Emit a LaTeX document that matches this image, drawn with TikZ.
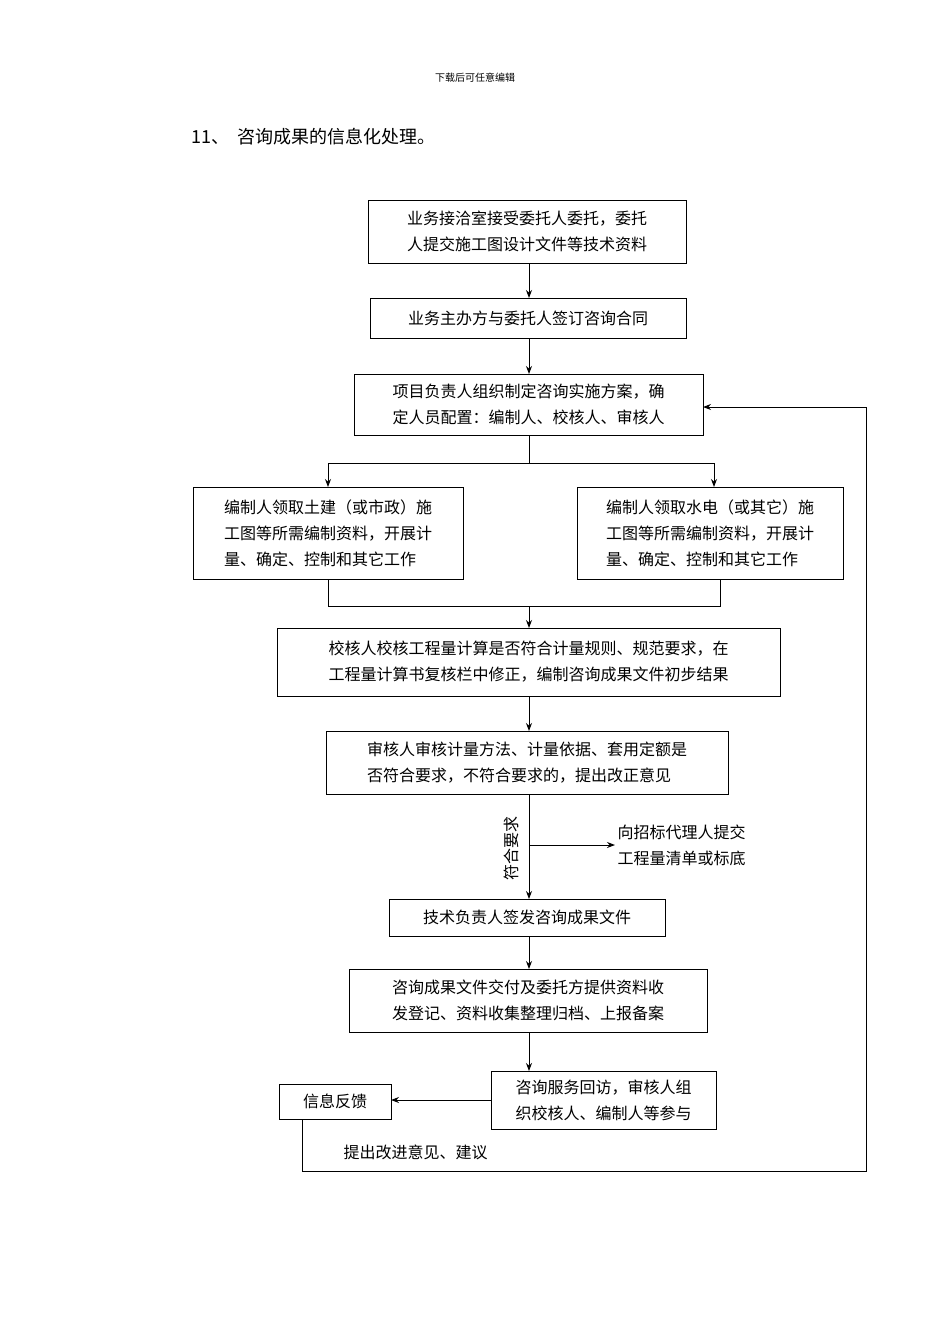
\documentclass[tikz,border=0pt]{standalone}
\usepackage{fontspec}
\newfontfamily\cjk{Noto Sans CJK SC}
\usetikzlibrary{arrows.meta}
\begin{document}
\begin{tikzpicture}[x=1pt,y=-1pt,
  bx/.style={draw,line width=1pt,align=left,font=\cjk\fontsize{16}{26}\selectfont,inner sep=0pt},
  tx/.style={align=left,font=\cjk\fontsize{16}{26}\selectfont},
  ar/.style={-{Stealth[length=8pt,width=6pt]},line width=1pt},
  ln/.style={line width=1pt}]
\useasboundingbox (0,0) rectangle (950,1344);
\node[font=\cjk\fontsize{10}{12}\selectfont] (hd) at (475,78) {下载后可任意编辑};
\node[anchor=west,font=\cjk\fontsize{18}{22}\selectfont] (tt) at (188,137) {11、\ \ 咨询成果的信息化处理。};
\draw[ln] (368,200) rectangle (686,263); \node[tx] (b1) at (527,231.5) {业务接洽室接受委托人委托，委托\\人提交施工图设计文件等技术资料};
\draw[ln] (370,298) rectangle (686,338); \node[tx] (b2) at (528,318) {业务主办方与委托人签订咨询合同};
\draw[ln] (354,374) rectangle (703,435); \node[tx] (b3) at (528.5,404.5) {项目负责人组织制定咨询实施方案，确\\定人员配置：编制人、校核人、审核人};
\draw[ln] (193,487) rectangle (463,579); \node[tx] (b4) at (328,533) {编制人领取土建（或市政）施\\工图等所需编制资料，开展计\\量、确定、控制和其它工作};
\draw[ln] (577,487) rectangle (843,579); \node[tx] (b5) at (710,533) {编制人领取水电（或其它）施\\工图等所需编制资料，开展计\\量、确定、控制和其它工作};
\draw[ln] (277,628) rectangle (780,696); \node[tx] (b6) at (528.5,662) {校核人校核工程量计算是否符合计量规则、规范要求，在\\工程量计算书复核栏中修正，编制咨询成果文件初步结果};
\draw[ln] (326,731) rectangle (728,794); \node[tx] (b7) at (527,762.5) {审核人审核计量方法、计量依据、套用定额是\\否符合要求，不符合要求的，提出改正意见};
\draw[ln] (389,899) rectangle (665,936); \node[tx] (b8) at (527,917.5) {技术负责人签发咨询成果文件};
\draw[ln] (349,969) rectangle (707,1032); \node[tx] (b9) at (528,1000.5) {咨询成果文件交付及委托方提供资料收\\发登记、资料收集整理归档、上报备案};
\draw[ln] (491,1071) rectangle (716,1129); \node[tx] (b10) at (603.5,1100) {咨询服务回访，审核人组\\织校核人、编制人等参与};
\draw[ln] (279,1084) rectangle (391,1119); \node[tx] (b11) at (335,1101.5) {信息反馈};
\coordinate (c1) at (529,263); \coordinate (c2) at (529,298);
\draw[ar] (c1) -- (c2);
\draw[ar] (529,338) -- (529,374);
\draw[ln] (529,435) -- (529,463);
\draw[ar] (529,463) -- (328,463) -- (328,487);
\draw[ar] (529,463) -- (714,463) -- (714,487);
\draw[ln] (328,579) -- (328,606) -- (720,606) -- (720,579);
\draw[ar] (529,606) -- (529,628);
\draw[ar] (529,696) -- (529,731);
\draw[ar] (529,794) -- (529,899);
\node[rotate=90,font=\cjk\fontsize{16}{20}\selectfont] (fh) at (511,848) {符合要求};
\draw[ar] (529,845) -- (615,845);
\node[tx,anchor=west] (zb) at (614,845) {向招标代理人提交\\工程量清单或标底};
\draw[ar] (529,936) -- (529,969);
\draw[ar] (529,1032) -- (529,1071);
\draw[ar] (491,1100) -- (391,1100);
\draw[ar] (302,1119) -- (302,1171) -- (866,1171) -- (866,407) -- (703,407);
\node[tx,anchor=west] (ty) at (340,1152) {提出改进意见、建议};
\end{tikzpicture}
\end{document}
